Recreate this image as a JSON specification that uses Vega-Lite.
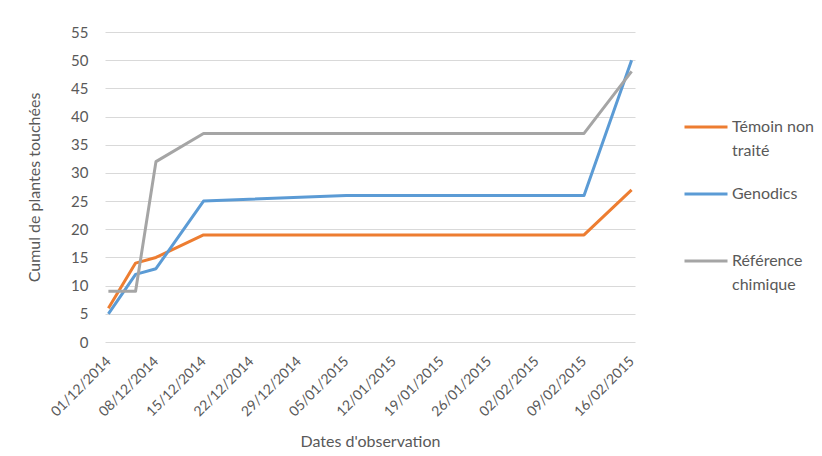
{
  "$schema": "https://vega.github.io/schema/vega-lite/v6.json",
  "width": 530,
  "height": 310,
  "autosize": {"type": "none"},
  "padding": {"left": 105, "top": 32, "right": 187, "bottom": 114},
  "background": "white",
  "data": {
    "values": [
      {"date": "2014-12-01", "serie": "Témoin non traité", "value": 6},
      {"date": "2014-12-05", "serie": "Témoin non traité", "value": 14},
      {"date": "2014-12-08", "serie": "Témoin non traité", "value": 15},
      {"date": "2014-12-15", "serie": "Témoin non traité", "value": 19},
      {"date": "2015-01-05", "serie": "Témoin non traité", "value": 19},
      {"date": "2015-02-09", "serie": "Témoin non traité", "value": 19},
      {"date": "2015-02-16", "serie": "Témoin non traité", "value": 27},
      {"date": "2014-12-01", "serie": "Genodics", "value": 5},
      {"date": "2014-12-05", "serie": "Genodics", "value": 12},
      {"date": "2014-12-08", "serie": "Genodics", "value": 13},
      {"date": "2014-12-15", "serie": "Genodics", "value": 25},
      {"date": "2015-01-05", "serie": "Genodics", "value": 26},
      {"date": "2015-02-09", "serie": "Genodics", "value": 26},
      {"date": "2015-02-16", "serie": "Genodics", "value": 50},
      {"date": "2014-12-01", "serie": "Référence chimique", "value": 9},
      {"date": "2014-12-05", "serie": "Référence chimique", "value": 9},
      {"date": "2014-12-08", "serie": "Référence chimique", "value": 32},
      {"date": "2014-12-15", "serie": "Référence chimique", "value": 37},
      {"date": "2015-01-05", "serie": "Référence chimique", "value": 37},
      {"date": "2015-02-09", "serie": "Référence chimique", "value": 37},
      {"date": "2015-02-16", "serie": "Référence chimique", "value": 48}
    ]
  },
  "mark": {"type": "line", "strokeWidth": 3, "strokeJoin": "round"},
  "encoding": {
    "x": {
      "field": "date",
      "type": "temporal",
      "scale": {
        "type": "utc",
        "domain": [
          {"year": 2014, "month": 11, "date": 30, "hours": 12, "utc": true},
          {"year": 2015, "month": 2, "date": 16, "hours": 12, "utc": true}
        ]
      },
      "axis": {
        "values": [
          {"year": 2014, "month": 12, "date": 1, "utc": true},
          {"year": 2014, "month": 12, "date": 8, "utc": true},
          {"year": 2014, "month": 12, "date": 15, "utc": true},
          {"year": 2014, "month": 12, "date": 22, "utc": true},
          {"year": 2014, "month": 12, "date": 29, "utc": true},
          {"year": 2015, "month": 1, "date": 5, "utc": true},
          {"year": 2015, "month": 1, "date": 12, "utc": true},
          {"year": 2015, "month": 1, "date": 19, "utc": true},
          {"year": 2015, "month": 1, "date": 26, "utc": true},
          {"year": 2015, "month": 2, "date": 2, "utc": true},
          {"year": 2015, "month": 2, "date": 9, "utc": true},
          {"year": 2015, "month": 2, "date": 16, "utc": true}
        ],
        "labelExpr": "utcFormat(datum.value, '%d/%m/%Y')",
        "labelAngle": -45,
        "labelAlign": "right",
        "labelBaseline": "middle",
        "labelPadding": 17,
        "labelFontSize": 14,
        "labelColor": "#595959",
        "labelOverlap": false,
        "labelFlush": false,
        "grid": false,
        "ticks": false,
        "domain": false,
        "title": "Dates d'observation",
        "titleFontSize": 16,
        "titleFontWeight": "normal",
        "titleColor": "#595959",
        "titlePadding": 15
      }
    },
    "y": {
      "field": "value",
      "type": "quantitative",
      "scale": {"domain": [0, 55]},
      "axis": {
        "values": [0, 5, 10, 15, 20, 25, 30, 35, 40, 45, 50, 55],
        "grid": true,
        "gridColor": "#d9d9d9",
        "gridWidth": 1,
        "ticks": false,
        "domain": false,
        "labelPadding": 17,
        "labelFontSize": 15,
        "labelColor": "#595959",
        "title": "Cumul de plantes touchées",
        "titleFontSize": 16,
        "titleFontWeight": "normal",
        "titleColor": "#595959",
        "titlePadding": 28
      }
    },
    "color": {
      "field": "serie",
      "type": "nominal",
      "scale": {
        "domain": ["Témoin non traité", "Genodics", "Référence chimique"],
        "range": ["#ED7D31", "#5B9BD5", "#A5A5A5"]
      },
      "legend": {
        "title": null,
        "orient": "none",
        "legendX": 578,
        "legendY": 72,
        "symbolType": "stroke",
        "symbolSize": 1849,
        "symbolStrokeWidth": 3,
        "labelExpr": "datum.label == 'Témoin non traité' ? ['Témoin non', 'traité'] : datum.label == 'Référence chimique' ? ['Référence', 'chimique'] : ['Genodics', ' ']",
        "labelFontSize": 16,
        "labelColor": "#595959",
        "labelOffset": 3,
        "labelBaseline": "middle",
        "rowPadding": 12,
        "padding": 0
      }
    }
  },
  "config": {
    "font": "Lato",
    "view": {"stroke": null},
    "style": {"guide-label": {"lineHeight": 24}}
  }
}
